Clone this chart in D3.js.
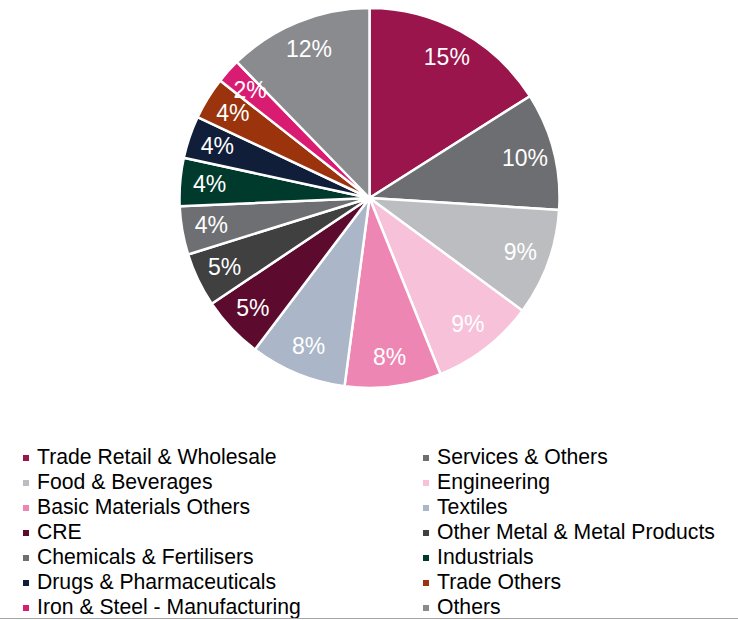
<!DOCTYPE html>
<html>
<head>
<meta charset="utf-8">
<script src="https://cdn.jsdelivr.net/npm/d3@7"></script>
<style>
  html, body { margin: 0; padding: 0; background: #fff; }
  svg { display: block; }
</style>
</head>
<body>
<svg id="chart" width="738" height="620"></svg>
<script>
const categories = [
  "Trade Retail & Wholesale", "Services & Others", "Food & Beverages", "Engineering",
  "Basic Materials Others", "Textiles", "CRE", "Other Metal & Metal Products",
  "Chemicals & Fertilisers", "Industrials", "Drugs & Pharmaceuticals", "Trade Others",
  "Iron & Steel - Manufacturing", "Others"
];
const shares = [16.0, 10.0, 9.1, 8.8, 8.2, 8.2, 5.3, 4.6, 4.1, 4.1, 3.6, 3.6, 2.1, 12.3];
const labels = ["15%", "10%", "9%", "9%", "8%", "8%", "5%", "5%", "4%", "4%", "4%", "4%", "2%", "12%"];
const colors = [
  "#99154B", "#6D6E71", "#BCBDC0", "#F6C1D9", "#EE86B3", "#ABB6C8", "#5C0A2E",
  "#404041", "#6E6F72", "#003A2C", "#101E3A", "#9B330D", "#D91C72", "#8A8B8F"
];

const svg = d3.select("#chart");
const cx = 369.5, cy = 198, R = 190;

const color = d3.scaleOrdinal().domain(categories).range(colors);
const data = categories.map((c, i) => ({ name: c, value: shares[i], label: labels[i] }));

const pie = d3.pie().value(d => d.value).sort(null);
const arc = d3.arc().innerRadius(0).outerRadius(R);
const labelArc = d3.arc().innerRadius(R * 0.845).outerRadius(R * 0.845);

const g = svg.append("g").attr("transform", `translate(${cx},${cy})`);
const arcs = pie(data);

g.selectAll("path.slice").data(arcs).join("path")
  .attr("class", "slice")
  .attr("d", arc)
  .attr("fill", d => color(d.data.name))
  .attr("stroke", "#fff")
  .attr("stroke-width", 2.5)
  .attr("stroke-linejoin", "round");

g.selectAll("text.lbl").data(arcs).join("text")
  .attr("class", "lbl")
  .attr("transform", d => `translate(${labelArc.centroid(d)})`)
  .attr("text-anchor", "middle")
  .attr("dy", "0.33em")
  .attr("fill", "#fff")
  .attr("font-family", "'Liberation Sans', Arial, sans-serif")
  .attr("font-size", 23)
  .text(d => d.data.label);

// Legend
const legend = svg.append("g");
const colX = [23, 423];
const textX = [37, 437];
const rowY = d3.scalePoint().domain(d3.range(7)).range([464, 614]);
data.forEach((d, i) => {
  const col = i % 2, row = Math.floor(i / 2);
  const by = rowY(row);
  legend.append("rect")
    .attr("x", colX[col]).attr("y", by - 9)
    .attr("width", 6).attr("height", 6)
    .attr("fill", color(d.name));
  legend.append("text")
    .attr("x", textX[col]).attr("y", by)
    .attr("font-family", "'Liberation Sans', Arial, sans-serif")
    .attr("font-size", 21.2)
    .attr("fill", "#000")
    .text(d.name);
});

svg.append("line")
  .attr("x1", 0).attr("x2", 738)
  .attr("y1", 618.5).attr("y2", 618.5)
  .attr("stroke", "#A6A6A6").attr("stroke-width", 1);
</script>
</body>
</html>
